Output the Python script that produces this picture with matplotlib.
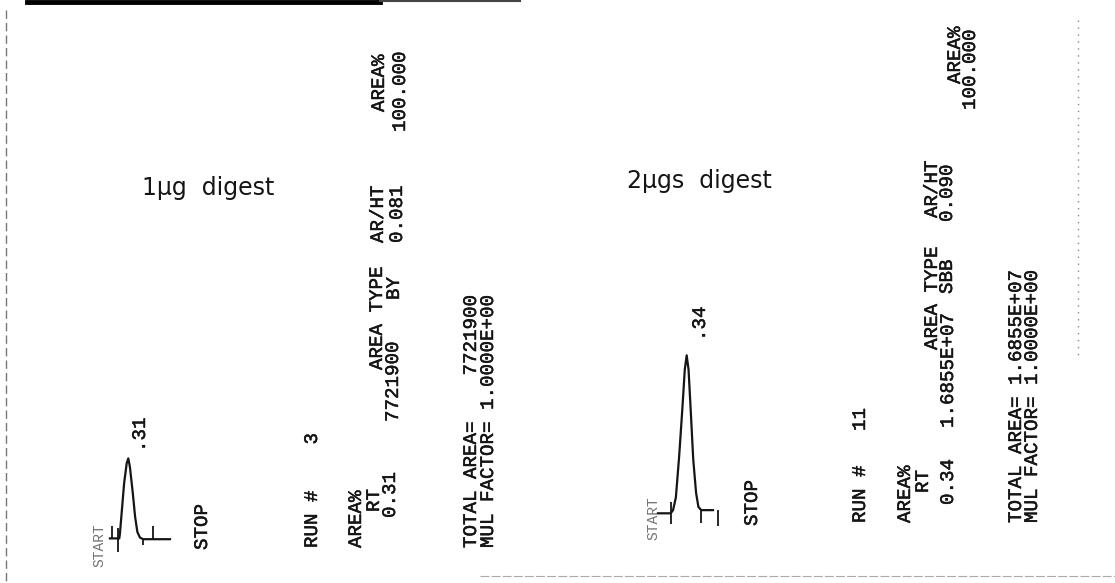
"""
Integrator printouts for two tryptic digests (1 ug and 2 ug),
redrawn from a scanned page: chromatogram trace plus report text.
"""

import matplotlib
matplotlib.use("Agg")
import matplotlib.pyplot as plt
import matplotlib.patheffects as pe

W, H = 1115, 583

# Report values for the two runs
run_no = ["3", "11"]
amount_label = ["1\u03bcg  digest", "2\u03bcgs  digest"]
ret_time = [0.31, 0.34]
peak_area = ["7721900", "1.6855E+07"]
peak_type = ["BY", "SBB"]
area_ht = [0.081, 0.090]
area_pct = [100.000, 100.000]
total_area = ["7721900", "1.6855E+07"]
mul_factor = ["1.0000E+00", "1.0000E+00"]

# Chromatogram traces: time [min], signal [% of peak height]
t_1ug = [-0.26, 0.03, 0.05, 0.11, 0.18, 0.26, 0.31, 0.36, 0.45, 0.52, 0.59, 0.67, 0.77, 1.60]
s_1ug = [0, 0, 6, 35, 69, 94, 100, 89, 56, 27, 8, 1, -1, -1]
t_2ug = [-0.27, 0.0, 0.05, 0.11, 0.18, 0.25, 0.30, 0.34, 0.38, 0.43, 0.48, 0.54, 0.59, 0.65, 0.90]
s_2ug = [0, 0, 2, 10, 36, 67, 91, 100, 91, 63, 34, 13, 4, 2, 2]

# Integrator event marks: time, lower end, upper end
marks_1ug_t = [-0.19, 0.0, 0.77, 1.07]
marks_1ug_lo = [0, -17, -8, -1]
marks_1ug_hi = [16, 13, -1, 16]
marks_2ug_t = [0.0, 0.65, 1.0]
marks_2ug_lo = [-7, -6, -8]
marks_2ug_hi = [7, 2, 2]

INK = "#151515"
MONO = "Liberation Mono"
FS = 13.8
thick = [pe.withStroke(linewidth=0.35, foreground=INK)]

fig = plt.figure(figsize=(W / 100, H / 100), dpi=100)
fig.patch.set_facecolor("white")

# page axes in pixel units, used only for placing the printed text
page = fig.add_axes([0, 0, 1, 1])
page.set_xlim(0, W)
page.set_ylim(H, 0)
page.axis("off")


def column(x, y, s, size=FS, effects=thick, **kw):
    # printer lines run bottom-to-top on the scanned page
    page.text(x, y, s, rotation=90, rotation_mode="anchor", ha="left",
              va="baseline", family=MONO, fontsize=size, color=INK,
              path_effects=effects, **kw)


def trace_axes(box, xlim, ylim):
    x0, y0, x1, y1 = box
    ax = fig.add_axes([x0 / W, 1 - y1 / H, (x1 - x0) / W, (y1 - y0) / H])
    ax.set_xlim(*xlim)
    ax.set_ylim(*ylim)
    ax.axis("off")
    ax.patch.set_alpha(0)
    return ax


def report(i, pos):
    # pos: (x baseline, y start) for every printed item of one run
    column(*pos["run"], f"RUN #{run_no[i]:>5}")
    column(*pos["area_hdr"], "AREA%")
    column(*pos["rt_hdr"], "RT")
    column(*pos["type_hdr"], "AREA TYPE")
    column(*pos["arht_hdr"], "AR/HT")
    column(*pos["pct_hdr"], "AREA%")
    column(*pos["rt"], f"{ret_time[i]:.2f}")
    column(*pos["area"], peak_area[i])
    column(*pos["type"], peak_type[i])
    column(*pos["arht"], f"{area_ht[i]:.3f}")
    column(*pos["pct"], f"{area_pct[i]:.3f}")
    column(*pos["total"], f"TOTAL AREA={total_area[i]:>11}")
    column(*pos["mul"], f"MUL FACTOR={mul_factor[i]:>11}")


# --- left printout (1 ug) ---
ax1 = trace_axes((100, 440, 180, 560), (-0.567, 1.91), (-27, 123))
ax1.plot(t_1ug, s_1ug, color=INK, lw=1.6, solid_joinstyle="round")
ax1.vlines(marks_1ug_t, marks_1ug_lo, marks_1ug_hi, color=INK, lw=1.3)

column(103, 567, "START", 10.5, effects=None, alpha=0.6)
column(145, 452, f".{round(ret_time[0] * 100)}")
column(207, 550, "STOP")
report(0, {
    "run": (317, 548), "area_hdr": (361, 548), "rt_hdr": (379, 512),
    "type_hdr": (382, 370), "arht_hdr": (383, 243), "pct_hdr": (384, 112),
    "rt": (395, 518), "area": (398, 422), "type": (399, 300),
    "arht": (402, 243), "pct": (405, 132),
    "total": (476, 548), "mul": (493, 548),
})
page.text(142, 195, amount_label[0], fontsize=17, color=INK, family="DejaVu Sans")

# --- right printout (2 ug) ---
ax2 = trace_axes((640, 340, 730, 540), (-0.653, 1.262), (-16.9, 109.7))
ax2.plot(t_2ug, s_2ug, color=INK, lw=1.6, solid_joinstyle="round")
ax2.vlines(marks_2ug_t, marks_2ug_lo, marks_2ug_hi, color=INK, lw=1.3)

column(657, 540, "START", 10.5, effects=None, alpha=0.6)
column(705, 341, f".{round(ret_time[1] * 100)}")
column(757, 526, "STOP")
report(1, {
    "run": (865, 523), "area_hdr": (910, 523), "rt_hdr": (928, 493),
    "type_hdr": (937, 350), "arht_hdr": (937, 218), "pct_hdr": (960, 84),
    "rt": (953, 505), "area": (953, 428), "type": (952, 294),
    "arht": (952, 222), "pct": (975, 110),
    "total": (1021, 523), "mul": (1037, 523),
})
page.text(627, 188, amount_label[1], fontsize=17, color=INK, family="DejaVu Sans")

# scan edges of the pasted paper
page.plot([27, 380], [1.5, 1.5], color="black", lw=3.5)
page.plot([380, 520], [1, 1], color="#444444", lw=1.5)
page.plot([6, 6], [10, H], color="#777777", lw=1.0, ls=(0, (6, 3)))
page.plot([1078, 1078], [20, 360], color="#888888", lw=1.0, ls=(0, (1, 4)))
page.plot([480, W], [576, 576], color="#aaaaaa", lw=0.8, ls=(0, (8, 2)))

fig.savefig("out.png", dpi=100, facecolor="white")
